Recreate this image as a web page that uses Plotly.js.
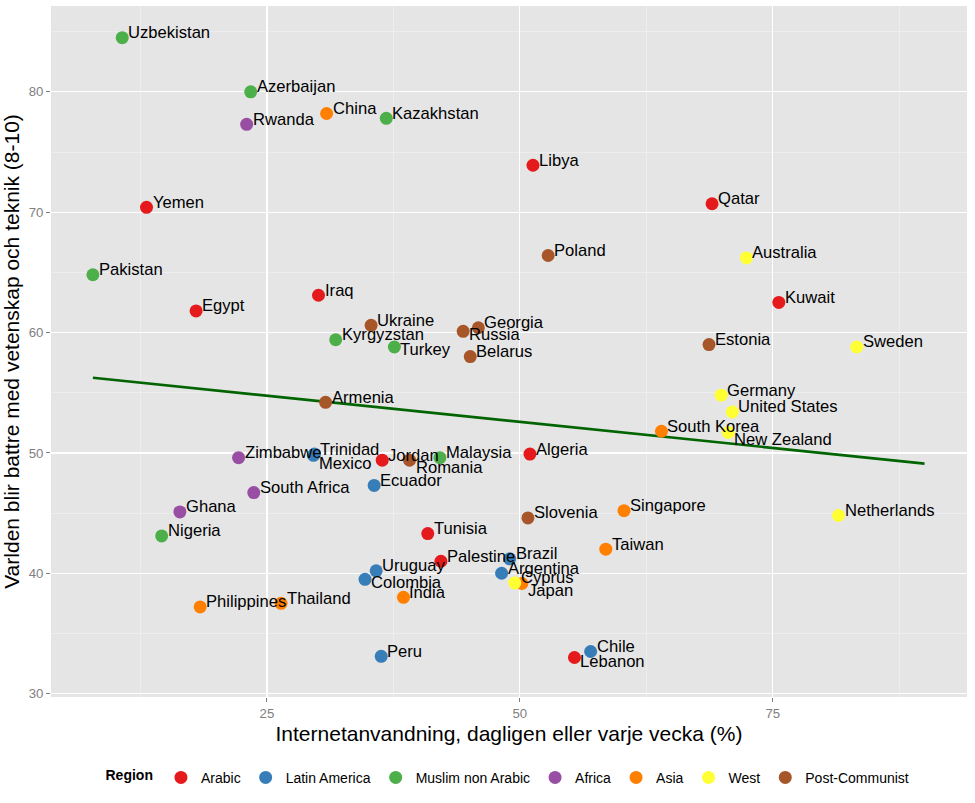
<!DOCTYPE html>
<html>
<head>
<meta charset="utf-8">
<script src="https://cdn.plot.ly/plotly-3.0.1.min.js"></script>
<style>html,body{margin:0;padding:0;background:#fff;}#chart{width:975px;height:803px;}</style>
</head>
<body>
<div id="chart"></div>
<script>
// ---- Data ----
const countries = ["Uzbekistan","Azerbaijan","Rwanda","China","Kazakhstan","Yemen","Pakistan","Egypt","Iraq","Ukraine","Kyrgyzstan","Turkey","Russia","Georgia","Belarus",
  "Libya","Qatar","Poland","Australia","Kuwait","Estonia","Sweden",
  "Armenia","Zimbabwe","Trinidad","Mexico","Jordan","Romania","Malaysia","South Africa","Ecuador","Ghana","Nigeria","Tunisia","Palestine","Uruguay","Colombia","India","Philippines","Thailand","Peru",
  "Germany","United States","South Korea","New Zealand","Algeria","Singapore","Netherlands","Slovenia","Taiwan","Brazil","Argentina","Cyprus","Japan","Chile","Lebanon"];
const internetUse = [10.7,23.4,23.0,30.9,36.8,13.1,7.8,18.0,30.1,35.3,31.8,37.6,44.4,45.9,45.1,
  51.3,69.0,52.8,72.4,75.6,68.7,83.3,
  30.8,22.2,29.7,29.6,36.4,39.1,42.1,23.7,35.6,16.4,14.6,40.9,42.2,35.8,34.7,38.5,18.4,26.4,36.3,
  69.9,71.0,64.0,70.6,51.0,60.3,81.5,50.8,58.5,49.0,48.2,49.5,50.2,57.0,55.4];
const betterWorld = [84.5,80.0,77.3,78.2,77.8,70.4,64.8,61.8,63.1,60.6,59.4,58.8,60.1,60.4,58.0,
  73.9,70.7,66.4,66.2,62.5,59.0,58.8,
  54.2,49.6,49.9,49.8,49.4,49.4,49.6,46.7,47.3,45.1,43.1,43.3,41.0,40.2,39.5,38.0,37.2,37.5,33.1,
  54.8,53.4,51.8,51.7,49.9,45.2,44.8,44.6,42.0,41.2,40.0,39.2,39.15,33.5,33.0];
const region = ["Muslim non Arabic","Muslim non Arabic","Africa","Asia","Muslim non Arabic","Arabic","Muslim non Arabic","Arabic","Arabic","Post-Communist","Muslim non Arabic","Muslim non Arabic","Post-Communist","Post-Communist","Post-Communist",
  "Arabic","Arabic","Post-Communist","West","Arabic","Post-Communist","West",
  "Post-Communist","Africa","Latin America","Latin America","Arabic","Post-Communist","Muslim non Arabic","Africa","Latin America","Africa","Muslim non Arabic","Arabic","Arabic","Latin America","Latin America","Asia","Asia","Asia","Latin America",
  "West","West","Asia","West","Arabic","Asia","West","Post-Communist","Asia","Latin America","Latin America","West","Asia","Latin America","Arabic"];
const regionOrder = ["Arabic","Latin America","Muslim non Arabic","Africa","Asia","West","Post-Communist"];
// Fitted regression line (endpoints)
const fitX = [7.8, 90.0];
const fitY = [56.24, 49.11];

// ---- Styles ----
const regionColors = {"Arabic":"#E41A1C","Latin America":"#377EB8","Muslim non Arabic":"#4DAF4A","Africa":"#984EA3","Asia":"#FF7F00","West":"#FFFF33","Post-Communist":"#A65628"};
const labelsBelow = {"Mexico":-8,"Romania":-7,"Japan":-7,"New Zealand":-7,"Lebanon":-4,"Russia":-3,"Turkey":-3,"Colombia":-3};
const FONT = "Liberation Sans, Arial, Helvetica, sans-serif";

const traces = [{
  x: fitX, y: fitY, type: "scatter", mode: "lines",
  line: {color: "#006400", width: 2.6}, showlegend: false, hoverinfo: "skip"
}];
regionOrder.forEach(r => {
  const idx = countries.map((c, i) => i).filter(i => region[i] === r);
  traces.push({
    x: idx.map(i => internetUse[i]), y: idx.map(i => betterWorld[i]),
    text: idx.map(i => countries[i]),
    type: "scatter", mode: "markers", name: r,
    marker: {color: regionColors[r], size: 13, line: {width: 0}}
  });
});

const annotations = countries.map((c, i) => ({
  x: internetUse[i], y: betterWorld[i], text: c, showarrow: false,
  xanchor: "left", yanchor: "middle", xshift: 4,
  yshift: (c in labelsBelow) ? labelsBelow[c] : 5,
  font: {family: FONT, size: 16.6, color: "#000"}
}));

const layout = {
  width: 975, height: 803,
  margin: {l: 51, r: 8, t: 6, b: 106},
  paper_bgcolor: "#fff", plot_bgcolor: "#E5E5E5",
  font: {family: FONT, color: "#000"},
  xaxis: {
    range: [3.66, 94.2], tick0: 0, dtick: 25, zeroline: false,
    showgrid: true, gridcolor: "#fff", gridwidth: 1.3,
    minor: {dtick: 12.5, showgrid: true, gridcolor: "#F2F2F2", gridwidth: 0.6},
    ticks: "outside", ticklen: 4, tickcolor: "#7F7F7F", tickwidth: 1,
    tickfont: {family: FONT, size: 13.2, color: "#7F7F7F"},
    title: {text: "Internetanvandning, dagligen eller varje vecka (%)", font: {family: FONT, size: 21, color: "#000"}, standoff: 6},
    showline: false
  },
  yaxis: {
    range: [29.72, 87.13], tick0: 0, dtick: 10, zeroline: false,
    showgrid: true, gridcolor: "#fff", gridwidth: 1.3,
    minor: {dtick: 5, showgrid: true, gridcolor: "#F2F2F2", gridwidth: 0.6},
    ticks: "outside", ticklen: 4, tickcolor: "#7F7F7F", tickwidth: 1,
    tickfont: {family: FONT, size: 13.2, color: "#7F7F7F"},
    title: {text: "Varlden blir battre med vetenskap och teknik (8-10)", font: {family: FONT, size: 21, color: "#000"}, standoff: 4},
    showline: false
  },
  showlegend: true,
  legend: {
    orientation: "h", x: 0.5, xanchor: "center", y: -0.117, yanchor: "middle",
    title: {text: "<b>Region</b>", side: "left", font: {family: FONT, size: 14, color: "#000"}},
    font: {family: FONT, size: 14, color: "#000"},
    bgcolor: "rgba(0,0,0,0)", itemwidth: 30, tracegroupgap: 0
  },
  annotations: annotations
};

Plotly.newPlot("chart", traces, layout, {displayModeBar: false, staticPlot: true});
</script>
</body>
</html>
